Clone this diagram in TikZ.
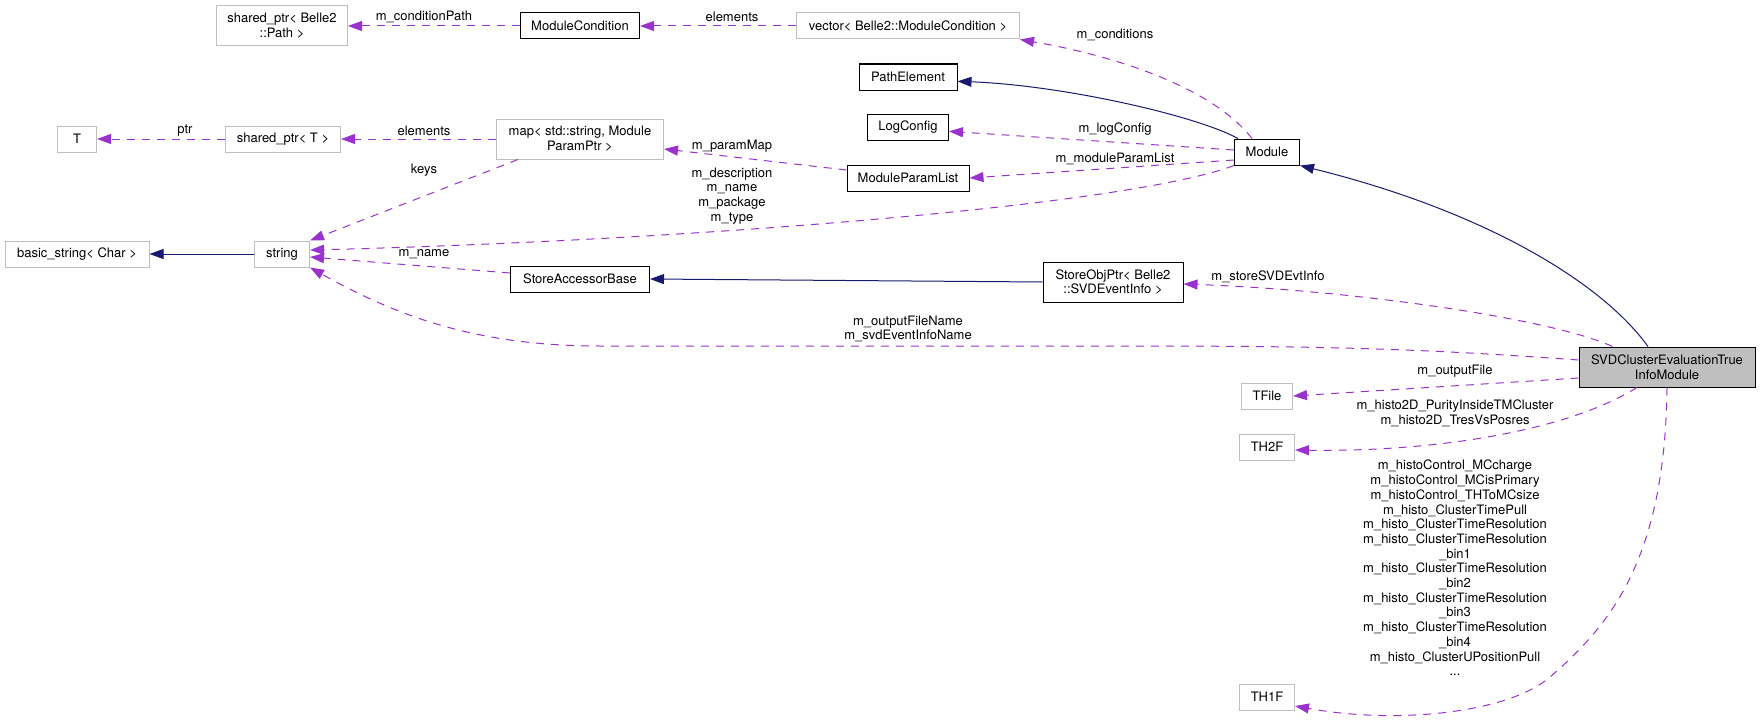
\documentclass[tikz,border=0pt]{standalone}
\usepackage{fontspec}
\setmainfont{TeX Gyre Heros}
\usetikzlibrary{arrows.meta}
\definecolor{edgepurple}{HTML}{9A32CD}
\definecolor{edgenavy}{HTML}{191970}
\definecolor{boxgray}{HTML}{BFBFBF}
\tikzset{
  cls/.style={draw=black, line width=1pt, minimum height=26pt, inner sep=0pt,
    align=center, font=\fontsize{13}{14.7}\selectfont},
  ext/.style={cls, draw=boxgray},
  member/.style={draw=edgepurple, line width=1pt, dash pattern=on 8pt off 7pt, ->},
  inherit/.style={draw=edgenavy, line width=1pt, ->},
  lbl/.style={inner sep=0pt, align=center, font=\fontsize{13}{14.7}\selectfont},
}
\begin{document}
\begin{tikzpicture}[x=1pt, y=-1pt, >={Triangle[length=14pt,width=10pt]}]
  \useasboundingbox (0,0) rectangle (1760,725);
  % class boxes, left to right
  \node[ext, minimum width=131pt, minimum height=40pt] (sharedpath) at (282,26) {shared\_ptr< Belle2\\::Path >};
  \node[cls, minimum width=119pt] (modcond) at (580,26) {ModuleCondition};
  \node[ext, minimum width=223pt] (vecmod) at (908,26) {vector< Belle2::ModuleCondition >};
  \node[cls, minimum width=98pt] (pathelem) at (908,77) {PathElement};
  \node[cls, minimum width=81pt] (logcfg) at (908,127) {LogConfig};
  \node[cls, minimum width=122pt] (mplist) at (908,178) {ModuleParamList};
  \node[cls, minimum width=65pt] (module) at (1267,152) {Module};
  \node[ext, minimum width=39pt] (tnode) at (77,139) {T};
  \node[ext, minimum width=115pt] (sharedT) at (283,139) {shared\_ptr< T >};
  \node[ext, minimum width=167pt, minimum height=40pt] (mapnode) at (580,139) {map< std::string, Module\\ParamPtr >};
  \node[ext, minimum width=144pt] (basicstr) at (77,254) {basic\_string< Char >};
  \node[ext, minimum width=55pt] (stringnode) at (282,254) {string};
  \node[cls, minimum width=139pt] (sab) at (580,279) {StoreAccessorBase};
  \node[cls, minimum width=140pt, minimum height=40pt] (storeobj) at (1113,282) {StoreObjPtr< Belle2\\::SVDEventInfo >};
  \node[cls, fill=boxgray, minimum width=176pt, minimum height=40pt] (svd) at (1667,367) {SVDClusterEvaluationTrue\\InfoModule};
  \node[ext, minimum width=51pt] (tfile) at (1267,396) {TFile};
  \node[ext, minimum width=55pt] (thtwo) at (1267,447) {TH2F};
  \node[ext, minimum width=55pt] (thone) at (1267,697) {TH1F};
  % inheritance
  \draw[inherit] (stringnode.west) -- (basicstr.east);
  \draw[inherit] (storeobj.west) -- (sab.east);
  \draw[inherit] ([xshift=-29pt]module.north) .. controls (1195,115) and (1060,85) .. (pathelem.-5);
  \draw[inherit] ([xshift=-19pt]svd.north) .. controls (1600,280) and (1480,210) .. (module.south east);
  % members
  \draw[member] (modcond.west) -- (sharedpath.east);
  \draw[member] (vecmod.west) -- (modcond.east);
  \draw[member] ([xshift=-15pt]module.north) .. controls (1210,85) and (1110,55) .. (vecmod.south east);
  \draw[member] ([yshift=2pt]module.west) -- (logcfg.-6);
  \draw[member] ([yshift=-8pt]module.west) -- (mplist.east);
  \draw[member] (module.south west) .. controls (1130,205) and (700,240) .. (stringnode.8);
  \draw[member] ([yshift=8pt]mplist.west) -- ([yshift=-10pt]mapnode.east);
  \draw[member] (mapnode.west) -- (sharedT.east);
  \draw[member] (sharedT.west) -- (tnode.east);
  \draw[member] ([xshift=22pt]mapnode.south west) -- (stringnode.north east);
  \draw[member] ([yshift=6pt]sab.west) -- ([yshift=-3pt]stringnode.east);
  \draw[member] ([xshift=34pt]svd.north west) .. controls (1550,318) and (1350,290) .. ([yshift=-2pt]storeobj.east);
  \draw[member] ([yshift=7pt]svd.west) .. controls (1400,347) and (1300,346) .. (1100,346) -- (600,346)
    .. controls (480,346) and (400,318) .. (stringnode.south east);
  \draw[member] ([yshift=-11pt]svd.west) -- (tfile.east);
  \draw[member] ([xshift=-30pt]svd.south) .. controls (1560,435) and (1420,452) .. ([yshift=-3pt]thtwo.east);
  \draw[member] (svd.south) .. controls (1665,560) and (1610,625) .. (1550,677)
    .. controls (1510,712) and (1400,725) .. ([yshift=-9pt]thone.east);
  % edge labels
  \node[lbl] (lcondpath) at (424,17) {m\_conditionPath};
  \node[lbl] (lelemvec) at (732,17) {elements};
  \node[lbl] (lconds) at (1115,35) {m\_conditions};
  \node[lbl] (llogcfg) at (1115,129) {m\_logConfig};
  \node[lbl] (lmplist) at (1115,159) {m\_moduleParamList};
  \node[lbl] (lparammap) at (732,146) {m\_paramMap};
  \node[lbl] (ldesc) at (732,196) {m\_description\\m\_name\\m\_package\\m\_type};
  \node[lbl] (lelemmap) at (424,131) {elements};
  \node[lbl] (lptr) at (185,131) {ptr};
  \node[lbl] (lkeys) at (424,170) {keys};
  \node[lbl] (lname) at (424,254) {m\_name};
  \node[lbl] (lstoreevt) at (1268,277) {m\_storeSVDEvtInfo};
  \node[lbl] (loutname) at (908,329) {m\_outputFileName\\m\_svdEventInfoName};
  \node[lbl] (loutfile) at (1455,371) {m\_outputFile};
  \node[lbl] (lhistotwo) at (1455,413) {m\_histo2D\_PurityInsideTMCluster\\m\_histo2D\_TresVsPosres};
  \node[lbl] (lhistoone) at (1455,568) {m\_histoControl\_MCcharge\\m\_histoControl\_MCisPrimary\\m\_histoControl\_THToMCsize\\m\_histo\_ClusterTimePull\\m\_histo\_ClusterTimeResolution\\m\_histo\_ClusterTimeResolution\\\_bin1\\m\_histo\_ClusterTimeResolution\\\_bin2\\m\_histo\_ClusterTimeResolution\\\_bin3\\m\_histo\_ClusterTimeResolution\\\_bin4\\m\_histo\_ClusterUPositionPull\\...};
\end{tikzpicture}
\end{document}
